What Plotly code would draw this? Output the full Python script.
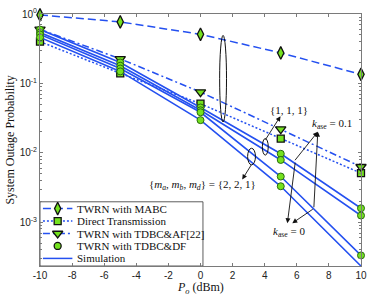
import plotly.graph_objects as go

# ---------------- data ----------------
P_dBm = [-10, -5, 0, 5, 10]
mabc = [0.97, 0.77, 0.51, 0.275, 0.135]
direct = [0.40, 0.14, 0.051, 0.016, 0.0051]
tdbc_af = [0.60, 0.226, 0.075, 0.022, 0.0063]
df_111_k01 = [0.597, 0.20, 0.045, 0.0097, 0.00159]
df_111_k0 = [0.541, 0.18, 0.041, 0.0079, 0.00125]
df_221_k01 = [0.508, 0.164, 0.0384, 0.00456, 0.000333]
df_221_k0 = [0.46, 0.149, 0.0296, 0.0033, 0.000234]

x_ticks = [-10, -8, -6, -4, -2, 0, 2, 4, 6, 8, 10]
x_ticktext = ["-10", "-8", "-6", "-4", "-2", "0", "2", "4", "6", "8", "10"]
y_ticks = [1, 0.1, 0.01, 0.001]
y_ticktext = ["10<sup>0</sup>", "10<sup>-1</sup>", "10<sup>-2</sup>", "10<sup>-3</sup>"]
y_minor = [m * 10 ** e for e in (-4, -3, -2, -1) for m in range(2, 10)]

legend_names = ["TWRN with MABC", "Direct Transmission", "TWRN with TDBC&AF[22]",
                "TWRN with TDBC&DF", "Simulation"]

# ---------------- styles ----------------
BLUE = "#2450f0"
GREEN = "#74e21e"
EDGE = "#111111"
SERIF = "Liberation Serif"
SANS = "Liberation Sans"
W, H = 374, 299
L, R, T, B = 40, 7, 7, 33
PW, PH = W - L - R, H - T - B

def px2paper(px, py):
    return (px - L) / PW, (H - B - py) / PH

series = [
    dict(y=mabc, dash="8px,4px", symbol="diamond-tall", size=9),
    dict(y=direct, dash="2px,2px", symbol="square", size=7),
    dict(y=tdbc_af, dash="7px,3px,2px,3px", symbol="triangle-down", size=9),
]

fig = go.Figure()
for s, name in zip(series, legend_names[:3]):
    fig.add_trace(go.Scatter(
        x=P_dBm, y=s["y"], mode="lines+markers", name=name, showlegend=False,
        line=dict(color=BLUE, width=1.5, dash=s["dash"]),
        marker=dict(symbol=s["symbol"], size=s["size"], color=GREEN,
                    line=dict(color=EDGE, width=1.3)),
        cliponaxis=False))

for ys in (df_111_k01, df_111_k0, df_221_k01, df_221_k0):
    fig.add_trace(go.Scatter(
        x=P_dBm, y=ys, mode="lines+markers", showlegend=False,
        line=dict(color=BLUE, width=1.6),
        marker=dict(symbol="circle", size=7, color=GREEN,
                    line=dict(color="#2a6a10", width=1)),
        cliponaxis=False))

# ---------------- hand-drawn legend (matches MATLAB compact rows) ----------------
lx0, ly0 = px2paper(40, 266)
lx1, ly1 = px2paper(206, 200)
fig.add_shape(type="rect", xref="paper", yref="paper", x0=lx0, y0=ly0, x1=lx1, y1=ly1,
              fillcolor="white", line=dict(color="#333333", width=0.8), layer="below")
row_py = [207, 219.8, 232.6, 245.4, 258.2]
leg_style = [
    dict(dash="8px,4px", symbol="diamond-tall", size=9, line=True, marker=True),
    dict(dash="2px,2px", symbol="square", size=7, line=True, marker=True),
    dict(dash="7px,3px,2px,3px", symbol="triangle-down", size=9, line=True, marker=True),
    dict(dash="solid", symbol="circle", size=7, line=False, marker=True),
    dict(dash="solid", symbol="circle", size=7, line=True, marker=False),
]
for py, st, name in zip(row_py, leg_style, legend_names):
    xa, ya = px2paper(43, py)
    xb, _ = px2paper(73, py)
    xm, _ = px2paper(58, py)
    if st["line"]:
        fig.add_trace(go.Scatter(x=[xa, xb], y=[ya, ya], xaxis="x2", yaxis="y2",
                                 mode="lines", showlegend=False, hoverinfo="skip",
                                 line=dict(color=BLUE, width=1.5, dash=st["dash"])))
    if st["marker"]:
        fig.add_trace(go.Scatter(x=[xm], y=[ya], xaxis="x2", yaxis="y2",
                                 mode="markers", showlegend=False, hoverinfo="skip",
                                 marker=dict(symbol=st["symbol"], size=st["size"], color=GREEN,
                                             line=dict(color=EDGE, width=1.3))))
    tx, _ = px2paper(76, py)
    fig.add_annotation(x=tx, y=ya, xref="paper", yref="paper", text=name, showarrow=False,
                       xanchor="left", yanchor="middle",
                       font=dict(family=SERIF, size=11, color="#111111"))

# ---------------- ellipses ----------------
def ellipse(px0, py0, px1, py1):
    x0, y0 = px2paper(px0, py1)
    x1, y1 = px2paper(px1, py0)
    fig.add_shape(type="circle", xref="paper", yref="paper", x0=x0, y0=y0, x1=x1, y1=y1,
                  line=dict(color="#111111", width=1))

ellipse(223, 29, 230, 118)
ellipse(266.5, 135, 272.5, 152)
ellipse(251.5, 145, 259.5, 162)

# ---------------- arrows & labels ----------------
def arrow(tail, head):
    hx, hy = px2paper(*head)
    fig.add_annotation(x=hx, y=hy, xref="paper", yref="paper", text="", showarrow=True,
                       ax=tail[0] - head[0], ay=tail[1] - head[1],
                       arrowhead=2, arrowsize=1.1, arrowwidth=0.9, arrowcolor="#111111")

def label(px, py, text, size=11):
    x, y = px2paper(px, py)
    fig.add_annotation(x=x, y=y, xref="paper", yref="paper", text=text, showarrow=False,
                       xanchor="center", yanchor="middle",
                       font=dict(family=SERIF, size=size, color="#111111"))

arrow((269, 137), (285, 112))
label(294, 106, "{1, 1, 1}")
arrow((256, 161), (246, 177))
label(206, 183, "{<i>m<sub>a</sub></i>, <i>m<sub>b</sub></i>, <i>m<sub>d</sub></i>} = {2, 2, 1}")
arrow((299, 158), (323, 128))
arrow((319, 205), (323, 128))
arrow((300, 160), (292, 222))
arrow((319, 207), (297, 222))
label(337, 120, "<i>k</i><sub>ase</sub> = 0.1")
label(294, 231, "<i>k</i><sub>ase</sub> = 0")

# axis titles
x, y = px2paper(203.5, 289)
fig.add_annotation(x=x, y=y, xref="paper", yref="paper", showarrow=False,
                   text="<i>P<sub>o</sub></i> (dBm)", xanchor="center", yanchor="middle",
                   font=dict(family=SERIF, size=12, color="#111111"))
x, y = px2paper(9, 136.5)
fig.add_annotation(x=x, y=y, xref="paper", yref="paper", showarrow=False, textangle=-90,
                   text="System Outage Probability", xanchor="center", yanchor="middle",
                   font=dict(family=SERIF, size=12, color="#111111"))

AX = "#7a7a7a"
fig.update_layout(
    width=W, height=H, margin=dict(l=L, r=R, t=T, b=B),
    paper_bgcolor="white", plot_bgcolor="white", showlegend=False,
    xaxis=dict(range=[-10, 10], tickvals=x_ticks, ticktext=x_ticktext, ticks="inside",
               ticklen=3, tickcolor=AX, showline=True, linecolor=AX, linewidth=1,
               mirror="ticks", showgrid=False, zeroline=False,
               tickfont=dict(family=SANS, size=10, color="#222222")),
    yaxis=dict(type="log", range=[-3.63, 0], tickvals=y_ticks, ticktext=y_ticktext,
               ticks="inside", ticklen=3, tickcolor=AX, showline=True, linecolor=AX,
               linewidth=1, mirror="ticks", showgrid=False, zeroline=False,
               tickfont=dict(family=SANS, size=10, color="#222222"),
               minor=dict(tickvals=y_minor, ticks="inside", ticklen=2, tickcolor=AX,
                          showgrid=False)),
    xaxis2=dict(overlaying="x", range=[0, 1], visible=False, fixedrange=True),
    yaxis2=dict(overlaying="y", range=[0, 1], visible=False, fixedrange=True),
)

fig.write_html("out.html", config={"displayModeBar": False},
               post_script="document.body.style.margin='0px';")
